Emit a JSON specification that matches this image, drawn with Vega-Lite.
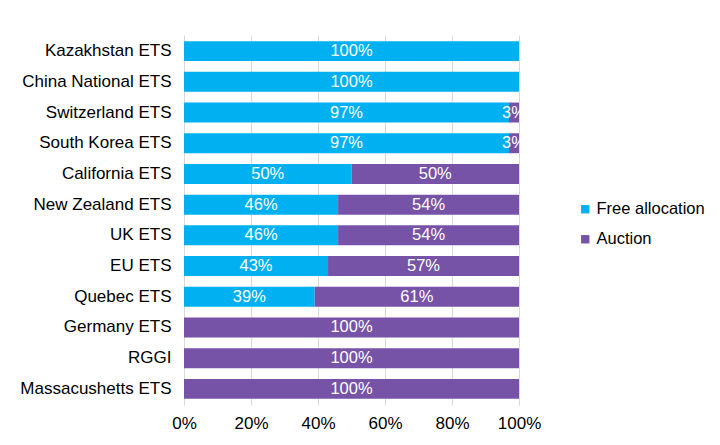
{
  "$schema": "https://vega.github.io/schema/vega-lite/v6.json",
  "width": 335,
  "height": 370,
  "autosize": "none",
  "padding": {"left": 184, "top": 35, "right": 201, "bottom": 40},
  "background": "white",
  "config": {"view": {"stroke": null}, "font": "Liberation Sans"},
  "data": {"values": [
    {"ets": "Kazakhstan ETS", "type": "Free allocation", "share": 1.00, "ord": 1},
    {"ets": "China National ETS", "type": "Free allocation", "share": 1.00, "ord": 1},
    {"ets": "Switzerland ETS", "type": "Free allocation", "share": 0.97, "ord": 1},
    {"ets": "Switzerland ETS", "type": "Auction", "share": 0.03, "ord": 2},
    {"ets": "South Korea ETS", "type": "Free allocation", "share": 0.97, "ord": 1},
    {"ets": "South Korea ETS", "type": "Auction", "share": 0.03, "ord": 2},
    {"ets": "California ETS", "type": "Free allocation", "share": 0.50, "ord": 1},
    {"ets": "California ETS", "type": "Auction", "share": 0.50, "ord": 2},
    {"ets": "New Zealand ETS", "type": "Free allocation", "share": 0.46, "ord": 1},
    {"ets": "New Zealand ETS", "type": "Auction", "share": 0.54, "ord": 2},
    {"ets": "UK ETS", "type": "Free allocation", "share": 0.46, "ord": 1},
    {"ets": "UK ETS", "type": "Auction", "share": 0.54, "ord": 2},
    {"ets": "EU ETS", "type": "Free allocation", "share": 0.43, "ord": 1},
    {"ets": "EU ETS", "type": "Auction", "share": 0.57, "ord": 2},
    {"ets": "Quebec ETS", "type": "Free allocation", "share": 0.39, "ord": 1},
    {"ets": "Quebec ETS", "type": "Auction", "share": 0.61, "ord": 2},
    {"ets": "Germany ETS", "type": "Auction", "share": 1.00, "ord": 2},
    {"ets": "RGGI", "type": "Auction", "share": 1.00, "ord": 2},
    {"ets": "Massacushetts ETS", "type": "Auction", "share": 1.00, "ord": 2}
  ]},
  "transform": [
    {"stack": "share", "groupby": ["ets"], "sort": [{"field": "ord", "order": "ascending"}], "as": ["s0", "s1"]}
  ],
  "encoding": {
    "y": {
      "field": "ets", "type": "nominal", "sort": null,
      "scale": {"paddingInner": 0.35, "paddingOuter": 0.2},
      "axis": {"title": null, "ticks": false, "domainColor": "#D9D9D9", "labelFontSize": 17, "labelColor": "#000000", "labelPadding": 13, "labelFont": "Liberation Sans"}
    }
  },
  "layer": [
    {
      "mark": {"type": "bar"},
      "encoding": {
        "x": {"field": "s0", "type": "quantitative", "scale": {"domain": [0, 1]},
          "axis": {"title": null, "values": [0, 0.2, 0.4, 0.6, 0.8, 1], "format": ".0%", "labelFlush": false, "domain": false, "ticks": false, "gridColor": "#D9D9D9", "labelFontSize": 17, "labelColor": "#000000", "labelPadding": 10, "labelFont": "Liberation Sans"}},
        "x2": {"field": "s1"},
        "color": {"field": "type", "type": "nominal",
          "scale": {"domain": ["Free allocation", "Auction"], "range": ["#00B0F0", "#7653A6"]},
          "legend": {"title": null, "orient": "none", "legendX": 393, "legendY": 166, "symbolType": "square", "symbolSize": 70, "symbolStrokeWidth": 0, "labelFontSize": 16.5, "labelColor": "#000000", "labelFont": "Liberation Sans", "rowPadding": 13, "labelOffset": 3}}
      }
    },
    {
      "transform": [
        {"fold": ["s0", "s1"], "as": ["edge", "pos"]},
        {"aggregate": [{"op": "mean", "field": "pos", "as": "mid"}], "groupby": ["ets", "type", "share"]}
      ],
      "mark": {"type": "text", "color": "white", "fontSize": 16.5, "font": "Liberation Sans", "align": "center", "baseline": "middle"},
      "encoding": {
        "x": {"field": "mid", "type": "quantitative"},
        "text": {"field": "share", "type": "quantitative", "format": ".0%"}
      }
    }
  ]
}
